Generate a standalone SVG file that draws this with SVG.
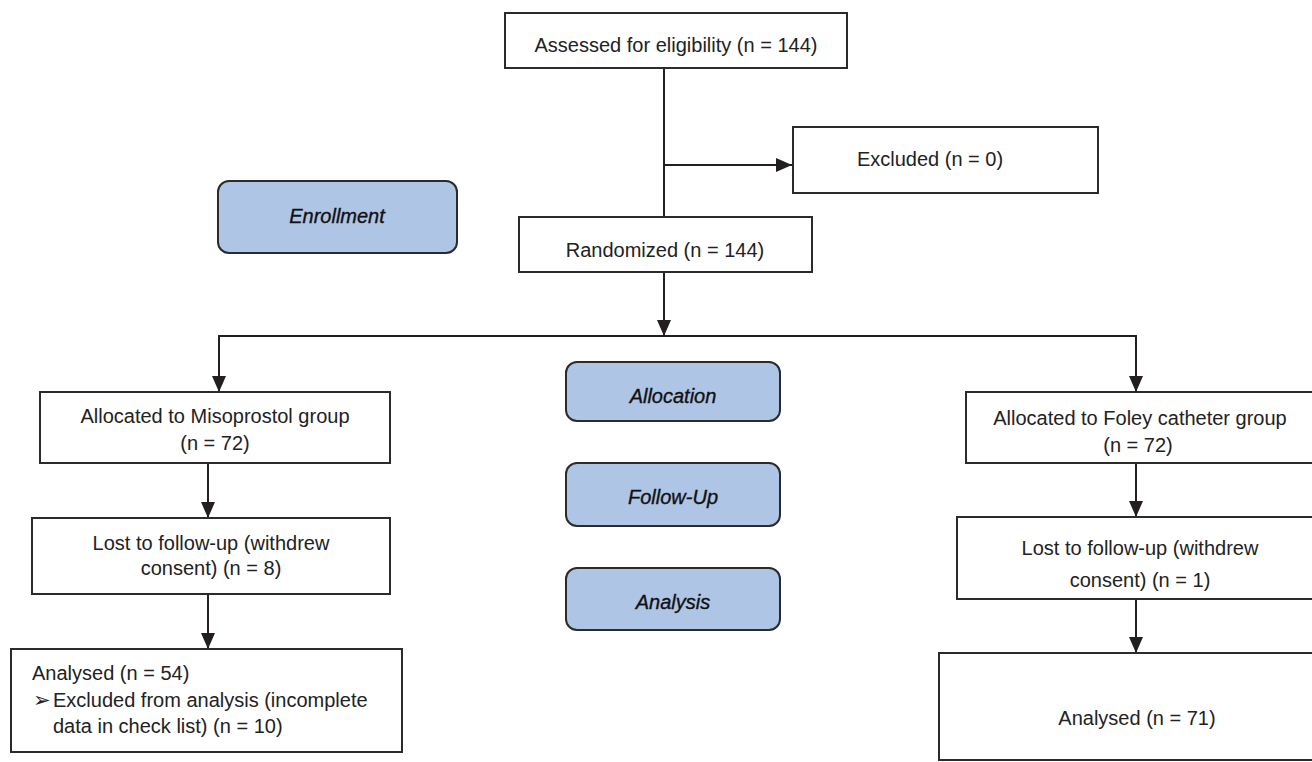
<svg xmlns="http://www.w3.org/2000/svg" width="1312" height="762" viewBox="0 0 1312 762">
<style>
.box{fill:#ffffff;stroke:#2b2b2b;stroke-width:2}
.stage{fill:#aec5e6;stroke:#2b2b2b;stroke-width:2}
.t{font-family:"Liberation Sans",Arial,sans-serif;font-size:20px;fill:#222222}
.c{text-anchor:middle}
.i{font-style:italic;font-size:20px;fill:#111111;stroke:#111111;stroke-width:0.35}
.ln{stroke:#231f20;stroke-width:2;fill:none}
</style>
<defs>
<marker id="ah" viewBox="0 0 16 16" markerWidth="16" markerHeight="16" refX="16" refY="8" orient="auto" markerUnits="userSpaceOnUse">
<path d="M0,1 L16,8 L0,15 z" fill="#231f20"/>
</marker>
</defs>
<rect width="1312" height="762" fill="#ffffff"/>
<g id="connectors">
<line class="ln" x1="664" y1="68" x2="664" y2="217"/>
<line class="ln" x1="664" y1="165" x2="792" y2="165" marker-end="url(#ah)"/>
<line class="ln" x1="664" y1="272" x2="664" y2="336" marker-end="url(#ah)"/>
<line class="ln" x1="218" y1="336" x2="1137" y2="336"/>
<line class="ln" x1="219" y1="336" x2="219" y2="392" marker-end="url(#ah)"/>
<line class="ln" x1="1136" y1="336" x2="1136" y2="392" marker-end="url(#ah)"/>
<line class="ln" x1="208" y1="463" x2="208" y2="518" marker-end="url(#ah)"/>
<line class="ln" x1="208" y1="594" x2="208" y2="649" marker-end="url(#ah)"/>
<line class="ln" x1="1136" y1="463" x2="1136" y2="517" marker-end="url(#ah)"/>
<line class="ln" x1="1136" y1="599" x2="1136" y2="653" marker-end="url(#ah)"/>
</g>
<g id="assessed">
<rect class="box" x="505" y="13" width="342" height="55"/>
<text class="t c" x="676" y="52">Assessed for eligibility (n = 144)</text>
</g>
<g id="excluded">
<rect class="box" x="793" y="127" width="305" height="66"/>
<text class="t c" x="930" y="166">Excluded (n = 0)</text>
</g>
<g id="randomized">
<rect class="box" x="519" y="217" width="293" height="55"/>
<text class="t c" x="665" y="257">Randomized (n = 144)</text>
</g>
<g id="enrollment">
<rect class="stage" x="218" y="181" width="239" height="72" rx="11"/>
<text class="t c i" x="337" y="223">Enrollment</text>
</g>
<g id="alloc-miso">
<rect class="box" x="40" y="392" width="350" height="71"/>
<text class="t c" x="215" y="423">Allocated to Misoprostol group</text>
<text class="t c" x="215" y="450">(n = 72)</text>
</g>
<g id="lost-miso">
<rect class="box" x="32" y="518" width="358" height="76"/>
<text class="t c" x="211" y="550">Lost to follow-up (withdrew</text>
<text class="t c" x="211" y="575">consent) (n = 8)</text>
</g>
<g id="analysed-miso">
<rect class="box" x="11" y="649" width="391" height="103"/>
<text class="t" x="32" y="680">Analysed (n = 54)</text>
<text class="t" x="33" y="707" style="font-family:'DejaVu Sans',sans-serif;font-size:21px">➢</text>
<text class="t" x="53" y="707">Excluded from analysis (incomplete</text>
<text class="t" x="53" y="733">data in check list) (n = 10)</text>
</g>
<g id="allocation">
<rect class="stage" x="566" y="362" width="214" height="59" rx="11"/>
<text class="t c i" x="673" y="403">Allocation</text>
</g>
<g id="followup">
<rect class="stage" x="566" y="463" width="214" height="63" rx="11"/>
<text class="t c i" x="673" y="504">Follow-Up</text>
</g>
<g id="analysis">
<rect class="stage" x="566" y="568" width="214" height="62" rx="11"/>
<text class="t c i" x="673" y="609">Analysis</text>
</g>
<g id="alloc-foley">
<rect class="box" x="966" y="392" width="350" height="71"/>
<text class="t c" x="1140" y="425">Allocated to Foley catheter group</text>
<text class="t c" x="1138" y="452">(n = 72)</text>
</g>
<g id="lost-foley">
<rect class="box" x="957" y="517" width="359" height="82"/>
<text class="t c" x="1140" y="555">Lost to follow-up (withdrew</text>
<text class="t c" x="1140" y="587">consent) (n = 1)</text>
</g>
<g id="analysed-foley">
<rect class="box" x="939" y="653" width="377" height="107"/>
<text class="t c" x="1137" y="725">Analysed (n = 71)</text>
</g>
</svg>
